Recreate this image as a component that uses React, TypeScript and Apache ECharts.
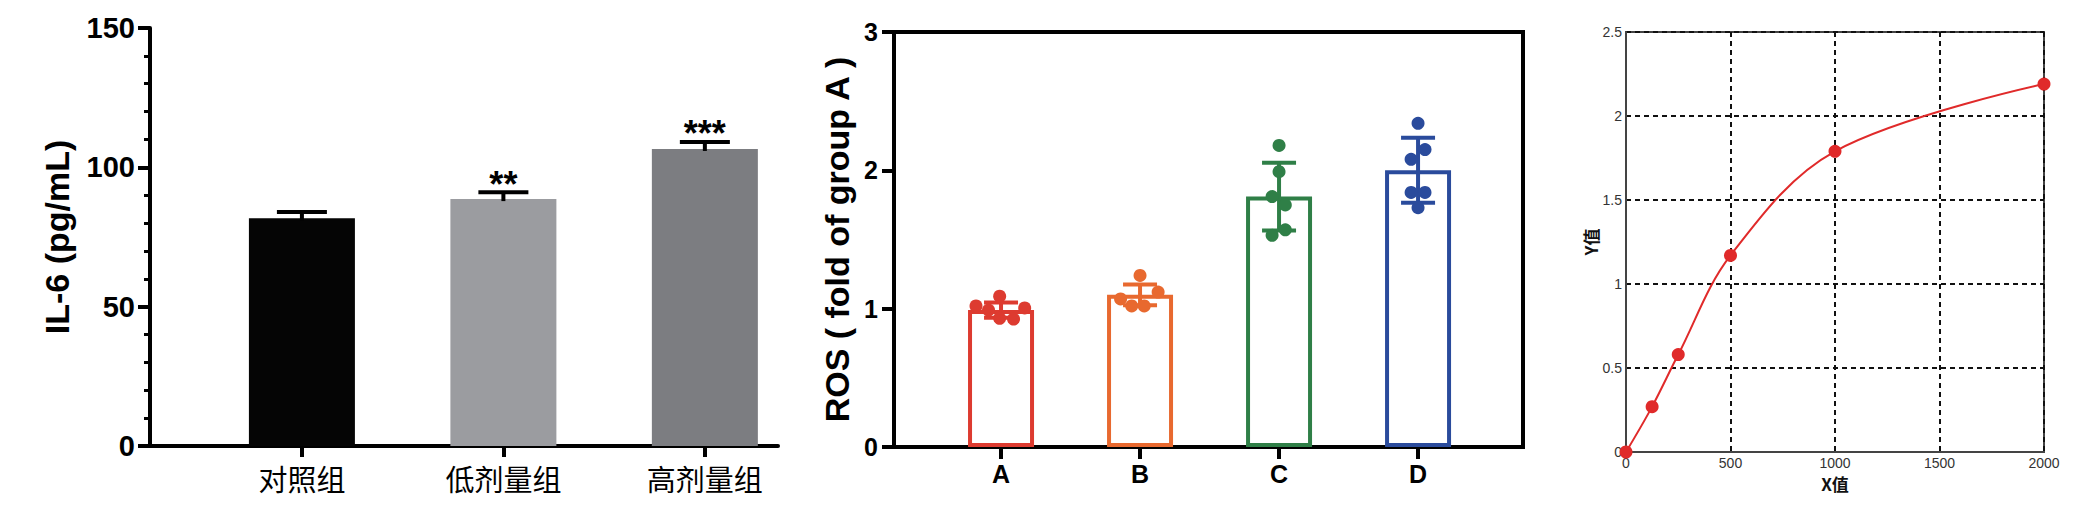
import React, { useEffect, useRef } from "react";
import * as echarts from "echarts";

// ---------- Panel 1: IL-6 ----------
const il6Categories = ["对照组", "低剂量组", "高剂量组"];
const il6Means = [81.7, 88.6, 106.6];
const il6Errors = [2.3, 2.5, 2.5];
const il6Stars = ["", "**", "***"];
const il6Colors = ["#050505", "#9b9ca0", "#7c7d81"];

// ---------- Panel 2: ROS ----------
const rosCategories = ["A", "B", "C", "D"];
const rosMeans = [0.99, 1.1, 1.81, 2.0];
const rosSD = [0.055, 0.075, 0.245, 0.235];
const rosColors = ["#dd3b30", "#e8692f", "#2f7f47", "#2a4b9c"];
const rosPointsA = [1.09, 1.02, 1.005, 0.99, 0.93, 0.925];
const rosJitterA = [-0.01, -0.18, 0.17, -0.09, -0.01, 0.09];
const rosPointsB = [1.24, 1.12, 1.07, 1.02, 1.02];
const rosJitterB = [0, 0.13, -0.14, -0.06, 0.03];
const rosPointsC = [2.18, 1.99, 1.81, 1.75, 1.53, 1.57];
const rosJitterC = [0, 0, -0.05, 0.045, -0.05, 0.045];
const rosPointsD = [2.34, 2.15, 2.08, 1.84, 1.84, 1.73];
const rosJitterD = [0, 0.05, -0.05, -0.05, 0.05, 0];

// ---------- Panel 3: standard curve ----------
const curveX = [0, 125, 250, 500, 1000, 2000];
const curveY = [0, 0.27, 0.58, 1.17, 1.79, 2.19];

const LAT = "'Liberation Sans', Arial, Helvetica, sans-serif";
const CJK = "'Noto Sans CJK SC', 'Noto Sans', sans-serif";

function buildOption() {
  const rosPoints = [rosPointsA, rosPointsB, rosPointsC, rosPointsD];
  const rosJitter = [rosJitterA, rosJitterB, rosJitterC, rosJitterD];

  const il6Err = il6Means.map((m, i) => [i, m, m + il6Errors[i]]);
  const rosErr = rosMeans.map((m, i) => [i, m - rosSD[i], m + rosSD[i]]);

  const scatterSeries = rosPoints.map((pts, g) => ({
    type: "scatter",
    xAxisIndex: 1,
    yAxisIndex: 1,
    symbol: "circle",
    symbolSize: 13,
    itemStyle: { color: rosColors[g], opacity: 1 },
    z: 5,
    data: pts.map((v, k) => [g + rosJitter[g][k], v]),
  }));

  const plain = (v: number) => String(v);

  return {
    animation: false,
    backgroundColor: "#ffffff",
    grid: [
      { left: 150, top: 28, width: 628, height: 418 },
      {
        left: 894,
        top: 32,
        width: 629,
        height: 415,
        show: true,
        borderColor: "#000",
        borderWidth: 4,
        backgroundColor: "transparent",
      },
      {
        left: 1626,
        top: 32,
        width: 418,
        height: 420,
        show: true,
        borderColor: "#444",
        borderWidth: 2,
        backgroundColor: "transparent",
      },
    ],
    xAxis: [
      {
        gridIndex: 0,
        type: "value",
        min: -0.754,
        max: 2.363,
        splitLine: { show: false },
        axisLine: { show: true, onZero: false, lineStyle: { color: "#000", width: 4 } },
        axisTick: {
          show: true,
          customValues: [0, 1, 2],
          length: 11,
          lineStyle: { color: "#000", width: 4 },
        },
        axisLabel: {
          show: true,
          customValues: [0, 1, 2],
          formatter: (v: number) => il6Categories[Math.round(v)] ?? "",
          color: "#000",
          fontFamily: CJK,
          fontSize: 29,
          margin: 17,
        },
      },
      {
        gridIndex: 1,
        type: "value",
        min: -0.77,
        max: 3.755,
        splitLine: { show: false },
        axisLine: { show: true, onZero: false, lineStyle: { color: "#000", width: 4 } },
        axisTick: {
          show: true,
          customValues: [0, 1, 2, 3],
          length: 12,
          lineStyle: { color: "#000", width: 4 },
        },
        axisLabel: {
          show: true,
          customValues: [0, 1, 2, 3],
          formatter: (v: number) => rosCategories[Math.round(v)] ?? "",
          color: "#000",
          fontFamily: LAT,
          fontWeight: "bold",
          fontSize: 25,
          margin: 14,
        },
      },
      {
        gridIndex: 2,
        type: "value",
        min: 0,
        max: 2000,
        interval: 500,
        name: "X值",
        nameLocation: "middle",
        nameGap: 20,
        nameTextStyle: { fontFamily: CJK, fontWeight: "bold", fontSize: 17, color: "#111" },
        splitLine: { show: true, lineStyle: { color: "#111", width: 2, type: [5, 4] } },
        axisLine: { show: true, onZero: false, lineStyle: { color: "#444", width: 2 } },
        axisTick: { show: false },
        axisLabel: { color: "#333", fontFamily: LAT, fontSize: 14, margin: 4, formatter: plain },
      },
    ],
    yAxis: [
      {
        gridIndex: 0,
        type: "value",
        min: 0,
        max: 150,
        interval: 50,
        name: "IL-6 (pg/mL)",
        nameLocation: "middle",
        nameRotate: 90,
        nameGap: 76,
        nameTextStyle: { fontFamily: LAT, fontWeight: "bold", fontSize: 34, color: "#000" },
        splitLine: { show: false },
        axisLine: { show: true, onZero: false, lineStyle: { color: "#000", width: 4 } },
        axisTick: { show: true, length: 12, lineStyle: { color: "#000", width: 4 } },
        minorTick: { show: true, splitNumber: 5, length: 6, lineStyle: { color: "#000", width: 3 } },
        axisLabel: { color: "#000", fontFamily: LAT, fontWeight: "bold", fontSize: 29, margin: 15 },
      },
      {
        gridIndex: 1,
        type: "value",
        min: 0,
        max: 3,
        interval: 1,
        name: "ROS ( fold of group A )",
        nameLocation: "middle",
        nameRotate: 90,
        nameGap: 40,
        nameTextStyle: { fontFamily: LAT, fontWeight: "bold", fontSize: 34, color: "#000" },
        splitLine: { show: false },
        axisLine: { show: true, onZero: false, lineStyle: { color: "#000", width: 4 } },
        axisTick: { show: true, length: 12, lineStyle: { color: "#000", width: 4 } },
        axisLabel: { color: "#000", fontFamily: LAT, fontWeight: "bold", fontSize: 25, margin: 16 },
      },
      {
        gridIndex: 2,
        type: "value",
        min: 0,
        max: 2.5,
        interval: 0.5,
        name: "Y值",
        nameLocation: "middle",
        nameRotate: 90,
        nameGap: 22,
        nameTextStyle: { fontFamily: CJK, fontWeight: "bold", fontSize: 17, color: "#111" },
        splitLine: { show: true, lineStyle: { color: "#111", width: 2, type: [5, 4] } },
        axisLine: { show: true, onZero: false, lineStyle: { color: "#444", width: 2 } },
        axisTick: { show: false },
        axisLabel: { color: "#333", fontFamily: LAT, fontSize: 14, margin: 4, formatter: plain },
      },
    ],
    series: [
      {
        type: "bar",
        xAxisIndex: 0,
        yAxisIndex: 0,
        barWidth: 106,
        data: il6Means.map((m, i) => ({ value: [i, m], itemStyle: { color: il6Colors[i] } })),
      },
      {
        type: "custom",
        xAxisIndex: 0,
        yAxisIndex: 0,
        z: 4,
        data: il6Err,
        renderItem: (params: any, api: any) => {
          const x = api.value(0);
          const lo = api.coord([x, api.value(1)]);
          const hi = api.coord([x, api.value(2)]);
          const half = 25;
          const star = il6Stars[params.dataIndex];
          return {
            type: "group",
            children: [
              {
                type: "line",
                shape: { x1: lo[0], y1: lo[1] + 2, x2: hi[0], y2: hi[1] },
                style: { stroke: "#000", lineWidth: 4 },
              },
              {
                type: "line",
                shape: { x1: hi[0] - half, y1: hi[1], x2: hi[0] + half, y2: hi[1] },
                style: { stroke: "#000", lineWidth: 4 },
              },
              {
                type: "text",
                x: hi[0],
                y: hi[1] - 8,
                style: {
                  text: star,
                  fill: "#000",
                  font: `bold 36px ${LAT}`,
                  align: "center",
                  verticalAlign: "middle",
                },
              },
            ],
          };
        },
      },
      {
        type: "bar",
        xAxisIndex: 1,
        yAxisIndex: 1,
        barWidth: 66,
        z: 2,
        data: rosMeans.map((m, i) => ({
          value: [i, m],
          itemStyle: { color: "#ffffff", borderColor: rosColors[i], borderWidth: 4 },
        })),
      },
      {
        type: "custom",
        xAxisIndex: 1,
        yAxisIndex: 1,
        z: 4,
        data: rosErr,
        renderItem: (params: any, api: any) => {
          const x = api.value(0);
          const lo = api.coord([x, api.value(1)]);
          const hi = api.coord([x, api.value(2)]);
          const half = 17;
          const c = rosColors[params.dataIndex];
          const st = { stroke: c, lineWidth: 4 };
          return {
            type: "group",
            children: [
              { type: "line", shape: { x1: lo[0], y1: lo[1], x2: hi[0], y2: hi[1] }, style: st },
              { type: "line", shape: { x1: hi[0] - half, y1: hi[1], x2: hi[0] + half, y2: hi[1] }, style: st },
              { type: "line", shape: { x1: lo[0] - half, y1: lo[1], x2: lo[0] + half, y2: lo[1] }, style: st },
            ],
          };
        },
      },
      ...scatterSeries,
      {
        type: "line",
        xAxisIndex: 2,
        yAxisIndex: 2,
        smooth: 0.35,
        symbol: "circle",
        symbolSize: 13,
        lineStyle: { color: "#e02a2a", width: 2 },
        itemStyle: { color: "#e02a2a" },
        z: 5,
        data: curveX.map((x, i) => [x, curveY[i]]),
      },
    ],
  };
}

export default function App() {
  const ref = useRef<HTMLDivElement>(null);
  useEffect(() => {
    if (!ref.current) return;
    const chart = echarts.init(ref.current, undefined, { renderer: "svg" });
    chart.setOption(buildOption() as any);
    return () => chart.dispose();
  }, []);
  return (
    <div
      ref={ref}
      style={{ position: "fixed", left: 0, top: 0, width: 2090, height: 516, background: "#fff" }}
    />
  );
}
